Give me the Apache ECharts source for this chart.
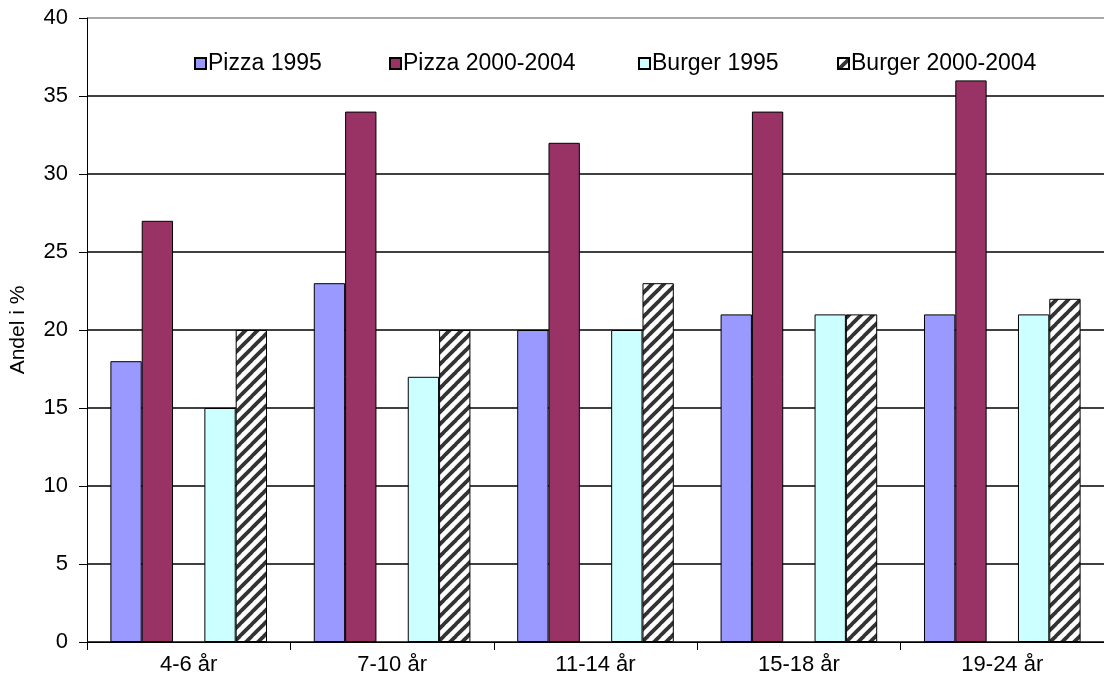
<!DOCTYPE html>
<html>
<head>
<meta charset="utf-8">
<script src="https://cdn.jsdelivr.net/npm/echarts@6/dist/echarts.min.js"></script>
<style>html,body{margin:0;padding:0;background:#fff;}#c{width:1104px;height:686px;}</style>
</head>
<body>
<div id="c"></div>
<script>
var categories = ['4-6 år', '7-10 år', '11-14 år', '15-18 år', '19-24 år'];
var seriesNames = ['Pizza 1995', 'Pizza 2000-2004', 'Burger 1995', 'Burger 2000-2004'];
var pizza1995 = [18, 23, 20, 21, 21];
var pizza2000 = [27, 34, 32, 34, 36];
var burger1995 = [15, 17, 20, 21, 21];
var burger2000 = [20, 20, 23, 21, 22];
var yTicks = [0, 5, 10, 15, 20, 25, 30, 35, 40];

function hatch() {
  var s = 12;
  var c = document.createElement('canvas');
  c.width = s; c.height = s;
  var g = c.getContext('2d');
  g.fillStyle = '#ffffff';
  g.fillRect(0, 0, s, s);
  g.strokeStyle = '#333333';
  g.lineWidth = 3.8;
  for (var k = -1; k <= 1; k++) {
    g.beginPath();
    g.moveTo(k * s - 1, s + 1);
    g.lineTo(k * s + s + 1, -1);
    g.stroke();
  }
  return { image: c, repeat: 'repeat' };
}

var font = 'Liberation Sans, Arial, sans-serif';
var legendLefts = [189, 384, 633, 832];
var legends = seriesNames.map(function (n, i) {
  return {
    data: [n], left: legendLefts[i], top: 47,
    itemWidth: 11, itemHeight: 11, icon: 'rect',
    textStyle: { fontSize: 23, color: '#000', fontFamily: font, padding: [0, 0, 0, -3] }
  };
});

var chart = echarts.init(document.getElementById('c'));
var border = { borderColor: '#000', borderWidth: 1 };
chart.setOption({
  animation: false,
  backgroundColor: '#fff',
  textStyle: { fontFamily: font },
  grid: { left: 87, right: -3, top: 18, bottom: 44, containLabel: false },
  legend: legends,
  xAxis: {
    type: 'category',
    data: categories,
    axisLine: { lineStyle: { color: '#000', width: 1 } },
    axisTick: { show: true, length: 8, lineStyle: { color: '#000' } },
    axisLabel: { fontSize: 22, color: '#000', margin: 12, fontFamily: font }
  },
  yAxis: {
    type: 'value', min: 0, max: 40, interval: 5,
    name: 'Andel i %', nameLocation: 'middle', nameGap: 58,
    nameTextStyle: { fontSize: 21, color: '#000', fontFamily: font },
    axisLine: { show: true, lineStyle: { color: '#000', width: 1 } },
    axisTick: { show: true, length: 8, lineStyle: { color: '#000' } },
    axisLabel: { fontSize: 22, color: '#000', margin: 19, fontFamily: font,
      formatter: function (v) { return yTicks.indexOf(v) >= 0 ? String(v) : ''; } },
    splitLine: { show: true, lineStyle: { color: ['#000', '#000', '#000', '#000', '#000', '#000', '#000', '#000', '#8c8c8c'], width: 1.5 } }
  },
  series: [
    { name: seriesNames[0], type: 'bar', data: pizza1995, barGap: '0%', barCategoryGap: '23%',
      itemStyle: Object.assign({ color: '#9999FF' }, border) },
    { name: seriesNames[1], type: 'bar', data: pizza2000,
      itemStyle: Object.assign({ color: '#993366' }, border) },
    { name: '', type: 'bar', data: [null, null, null, null, null], silent: true },
    { name: seriesNames[2], type: 'bar', data: burger1995,
      itemStyle: Object.assign({ color: '#CCFFFF' }, border) },
    { name: seriesNames[3], type: 'bar', data: burger2000,
      itemStyle: Object.assign({ color: hatch() }, border) }
  ]
});
</script>
</body>
</html>
